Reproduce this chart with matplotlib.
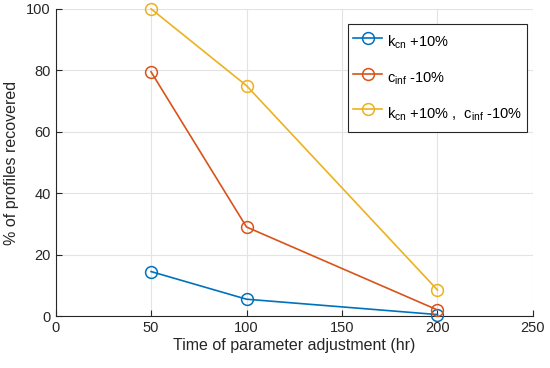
import matplotlib.pyplot as plt

plt.rcParams['font.family'] = ['Liberation Sans', 'DejaVu Sans']
plt.rcParams['mathtext.fontset'] = 'custom'
plt.rcParams['mathtext.rm'] = 'Liberation Sans'
plt.rcParams['mathtext.it'] = 'Liberation Sans'
plt.rcParams['mathtext.bf'] = 'Liberation Sans'

hours = [50, 100, 200]
kcn_up = [14.5, 5.5, 0.5]
cinf_down = [79.5, 29, 2]
both = [100, 75, 8.5]
labels = [r'$\mathrm{k_{cn}}$ +10%', r'$\mathrm{c_{inf}}$ -10%',
          r'$\mathrm{k_{cn}}$ +10% ,  $\mathrm{c_{inf}}$ -10%']
colors = ['#0072BD', '#D95319', '#EDB120']

fig = plt.figure(figsize=(5.5, 3.68), dpi=100)
ax = fig.add_axes([0.101, 0.141, 0.868, 0.835])

for ys, lab, c in zip([kcn_up, cinf_down, both], labels, colors):
    ax.plot(hours, ys, color=c, lw=1.2, marker='o', ms=8.5, mfc='none',
            mew=1.1, label=lab, clip_on=False, zorder=3)

ax.set_xlim(0, 250)
ax.set_ylim(0, 100)
ax.set_xticks([0, 50, 100, 150, 200, 250])
ax.set_yticks([0, 20, 40, 60, 80, 100])
ax.grid(True, color='#e3e3e3', lw=0.8)
ax.set_axisbelow(True)
for s in ['top', 'right']:
    ax.spines[s].set_visible(False)
for s in ['left', 'bottom']:
    ax.spines[s].set_color('#262626')
    ax.spines[s].set_linewidth(0.8)
ax.tick_params(direction='in', length=4, labelsize=10.5, colors='#262626', width=0.8)
ax.set_xlabel('Time of parameter adjustment (hr)', fontsize=11.5, color='#262626', labelpad=2)
ax.set_ylabel('% of profiles recovered', fontsize=11.5, color='#262626', labelpad=5)

leg = ax.legend(loc='upper right', bbox_to_anchor=(0.987, 0.951), borderaxespad=0,
                fontsize=10.5, fancybox=False, edgecolor='#262626', framealpha=1,
                labelspacing=0.65, handleheight=2.4, handlelength=2.0,
                borderpad=0.35, handletextpad=0.3)
leg.get_frame().set_linewidth(0.8)

fig.savefig('out.png', dpi=100)
